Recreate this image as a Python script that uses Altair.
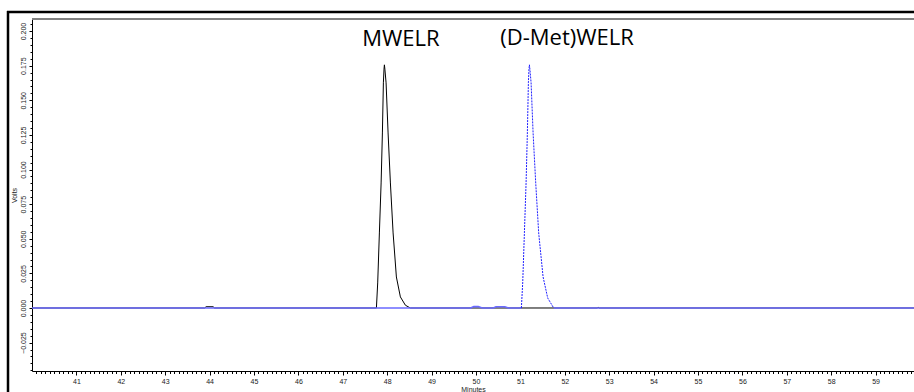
import altair as alt
import pandas as pd

# ---- data ----
# MWELR trace (black)
mwelr_t = [40.0, 43.89, 43.92, 44.08, 44.11, 47.757, 47.786, 47.824, 47.863, 47.892,
           47.914, 47.928, 47.937, 47.948, 47.975, 48.020, 48.072, 48.133, 48.207,
           48.297, 48.410, 48.52, 52.73, 52.75, 52.77, 59.87]
mwelr_v = [0, 0, 0.0009, 0.0009, 0, 0, 0.0181, 0.0542, 0.0903, 0.1264,
           0.1626, 0.1725, 0.1756, 0.1725, 0.1626, 0.1264, 0.0903, 0.0542, 0.0224,
           0.0080, 0.0020, 0, 0, 0.0005, 0, 0]

# (D-Met)WELR trace (blue): baseline parts solid, peak part dashed
dmet_base1_t = [40.0, 49.88, 49.95, 50.05, 50.14, 50.39, 50.45, 50.65, 50.73, 51.022]
dmet_base1_v = [0, 0, 0.0010, 0.0010, 0, 0, 0.0009, 0.0009, 0, 0]
dmet_peak_t = [51.022, 51.052, 51.090, 51.128, 51.157, 51.180, 51.193, 51.203, 51.214,
               51.241, 51.286, 51.345, 51.412, 51.511, 51.615, 51.750]
dmet_peak_v = [0, 0.0181, 0.0542, 0.0903, 0.1264, 0.1626, 0.1725, 0.1756, 0.1725,
               0.1626, 0.1264, 0.0903, 0.0542, 0.0224, 0.0072, 0]
dmet_base2_t = [51.750, 59.87]
dmet_base2_v = [0, 0]

labels_text = ["MWELR", "(D-Met)WELR"]
labels_t = [48.31, 52.05]
labels_v = [0.189, 0.190]

x_major = list(range(41, 60))
y_major = [-0.025, 0.0, 0.025, 0.05, 0.075, 0.1, 0.125, 0.15, 0.175, 0.2]

# ---- build tables ----
black = pd.DataFrame({"t": mwelr_t, "v": mwelr_v})
blue_solid = pd.concat([
    pd.DataFrame({"t": dmet_base1_t, "v": dmet_base1_v, "part": "a"}),
    pd.DataFrame({"t": dmet_base2_t, "v": dmet_base2_v, "part": "b"}),
])
blue_dash = pd.DataFrame({"t": dmet_peak_t, "v": dmet_peak_v})
labels = pd.DataFrame({"text": labels_text, "t": labels_t, "v": labels_v})

x_minor = [round(40 + i * 0.1, 1) for i in range(0, 199) if i % 10 != 0]
y_minor = [round(-0.045 + i * 0.005, 3) for i in range(0, 51)]

W, H = 882, 352
xdom = [40.0, 59.865]
ydom = [-0.0455, 0.2087]

FONT = "Liberation Sans"

xs = alt.Scale(domain=xdom, nice=False, zero=False)
ys = alt.Scale(domain=ydom, nice=False, zero=False)

x_axis = alt.Axis(values=x_major, format="d", orient="bottom", grid=False,
                  domainColor="#000000", tickColor="#000000", tickSize=4,
                  labelFont=FONT, labelFontSize=7, labelColor="#222222",
                  labelPadding=2, title="Minutes", titleFont=FONT,
                  titleFontSize=7, titleFontWeight="normal", titleColor="#222222",
                  titlePadding=1)
y_axis = alt.Axis(values=y_major, format=".3f", orient="left", grid=False,
                  domainColor="#000000", tickColor="#000000", tickSize=3,
                  labelFont=FONT, labelFontSize=7, labelColor="#222222",
                  labelAngle=270, labelAlign="center", labelBaseline="bottom",
                  labelPadding=3, title="Volts", titleFont=FONT,
                  titleFontSize=7, titleFontWeight="normal", titleColor="#222222",
                  titlePadding=2)

black_line = alt.Chart(black).mark_line(color="#000000", strokeWidth=1).encode(
    x=alt.X("t:Q", scale=xs, axis=x_axis),
    y=alt.Y("v:Q", scale=ys, axis=y_axis),
)

blue_base = alt.Chart(blue_solid).mark_line(color="#6a6aff", strokeWidth=1.6).encode(
    x=alt.X("t:Q", scale=xs, axis=None),
    y=alt.Y("v:Q", scale=ys, axis=None),
    detail="part:N",
)

blue_peak = alt.Chart(blue_dash).mark_line(color="#2020ff", strokeWidth=1,
                                           strokeDash=[2, 1]).encode(
    x=alt.X("t:Q", scale=xs, axis=None),
    y=alt.Y("v:Q", scale=ys, axis=None),
)

# minor ticks
minor_x = alt.Chart(pd.DataFrame({"t": [40.0]})).mark_point(opacity=0).encode(
    x=alt.X("t:Q", scale=xs,
            axis=alt.Axis(values=x_minor, orient="bottom", labels=False, domain=False,
                          grid=False, tickColor="#000000", tickSize=2.5, title=None)),
)
minor_y = alt.Chart(pd.DataFrame({"v": [0.0]})).mark_point(opacity=0).encode(
    y=alt.Y("v:Q", scale=ys,
            axis=alt.Axis(values=y_minor, orient="left", labels=False, domain=False,
                          grid=False, tickColor="#000000", tickSize=2, title=None)),
)

text = alt.Chart(labels).mark_text(font="Open Sans", fontSize=22, color="#000000",
                                   baseline="alphabetic", align="center").encode(
    x=alt.X("t:Q", scale=xs, axis=None),
    y=alt.Y("v:Q", scale=ys, axis=None),
    text="text:N",
)

# decorations: top plot border and outer frame
top_border = alt.Chart(pd.DataFrame({"a": [0]})).mark_rule(color="#808080", strokeWidth=2).encode(
    x=alt.value(0), x2=alt.value(W), y=alt.value(0))
frame_top = alt.Chart(pd.DataFrame({"a": [0]})).mark_rule(color="#000000", strokeWidth=2.5).encode(
    x=alt.value(-25), x2=alt.value(W), y=alt.value(-7))
frame_left = alt.Chart(pd.DataFrame({"a": [0]})).mark_rule(color="#000000", strokeWidth=2.5).encode(
    x=alt.value(-24), y=alt.value(-8), y2=alt.value(H + 30))

chart = alt.layer(
    minor_x, minor_y, black_line, blue_base, blue_peak, text,
    top_border, frame_top, frame_left,
).resolve_axis(x="independent", y="independent").properties(
    width=W, height=H,
    autosize=alt.AutoSizeParams(type="none"),
    padding={"left": 32, "top": 19, "right": 0, "bottom": 21},
    background="#ffffff",
).configure_view(stroke=None)

chart.save("out.html", embed_options={"renderer": "svg", "actions": False})
